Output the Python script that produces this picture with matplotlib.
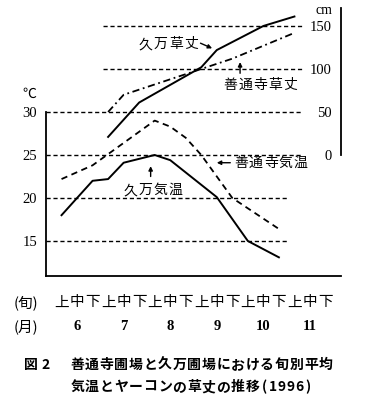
import numpy as np
import matplotlib
matplotlib.use('Agg')
import matplotlib.pyplot as plt
import matplotlib.transforms as mtransforms

plt.rcParams['font.family'] = ['Noto Sans CJK JP', 'DejaVu Sans']

# 旬 (0 = 6月上旬)
decad_labels = ['上', '中', '下'] * 6
months = ['6', '7', '8', '9', '10', '11']
month_pos = [1, 4, 7, 10, 13, 16]

# 気温 (℃)
kuma_temp_x = [0, 2, 3, 4, 6, 7, 10, 12, 14]
kuma_temp = [18.0, 22.0, 22.2, 24.1, 25.0, 24.4, 20.1, 15.0, 13.1]
zentsuji_temp_x = [0, 2, 6, 7, 8, 9, 11, 14]
zentsuji_temp = [22.2, 23.8, 29.0, 28.3, 27.0, 25.0, 20.0, 16.4]

# 草丈 (cm)
kuma_height_x = [3, 5, 9, 10, 13, 15]
kuma_height = [21, 61, 102, 122, 150, 161]
zentsuji_height_x = [3, 4, 11, 15]
zentsuji_height = [50, 70, 112, 142]

temp_ticks = [15, 20, 25, 30]
height_ticks = [0, 50, 100, 150]

W, H = 372, 413
fig = plt.figure(figsize=(W / 100, H / 100), dpi=100)
fig.patch.set_facecolor('white')


# 字間をあけて一文字ずつ置く（全角 adv px, 半角 adv_half px）
def spaced_text(target, x, y, s, transform, adv=14.6, adv_half=8.6, align='left', **kw):
    widths = [adv if ord(c) > 0x2000 else adv_half for c in s]
    total = sum(widths)
    start = 0 if align == 'left' else -total / 2
    pos = start
    for c, w in zip(s, widths):
        tr = mtransforms.offset_copy(transform, fig=fig, x=pos + w / 2, y=0, units='dots')
        target.text(x, y, c, transform=tr, ha='center', va='center', **kw)
        pos += w


ax = fig.add_axes([46 / W, (H - 276) / H, (341 - 46) / W, (276 - 8) / H])
t_lo, t_hi = 10.93, 42.09
ax.set_xlim(-1, 18)
ax.set_ylim(t_lo, t_hi)
ax2 = ax.twinx()
ax2.set_ylim((t_lo - 25) * 10, (t_hi - 25) * 10)  # 25℃ = 0cm, 30℃ = 50cm

# 点線の目盛線
grid_kw = dict(colors='black', linewidth=1.0, linestyles=(0, (3, 2)))
ax.hlines([30, 25], -1, 15.5, **grid_kw)
ax.hlines([20, 15], -1, 14.55, **grid_kw)
ax2.hlines([150, 100], 2.68, 15.5, **grid_kw)

# 気温
ax.plot(kuma_temp_x, kuma_temp, color='black', lw=1.4)
ax.plot(zentsuji_temp_x, zentsuji_temp, color='black', lw=1.3, linestyle=(0, (3.5, 2.5)))
# 草丈
ax2.plot(kuma_height_x, kuma_height, color='black', lw=1.4)
ax2.plot(zentsuji_height_x, zentsuji_height, color='black', lw=1.3, linestyle=(0, (4, 2, 1, 2)))

# 軸
for s in ['top', 'right']:
    ax.spines[s].set_visible(False)
for s in ['top', 'left', 'bottom']:
    ax2.spines[s].set_visible(False)
ax.spines['left'].set_bounds(t_lo, 30)
ax.spines['left'].set_linewidth(1.3)
ax.spines['bottom'].set_linewidth(1.3)
ax2.spines['right'].set_bounds(0, (t_hi - 25) * 10)
ax2.spines['right'].set_linewidth(1.3)

num_font = dict(family='Liberation Serif', size=10.5)
ax.set_yticks(temp_ticks)
ax.set_yticklabels([str(v) for v in temp_ticks], **num_font)
ax.tick_params(axis='y', length=0, pad=6.5)
ax2.set_yticks(height_ticks)
ax2.set_yticklabels([str(v) for v in height_ticks], ha='right', **num_font)
ax2.tick_params(axis='y', length=0, pad=-6.5)

ax.set_xticks(range(len(decad_labels)))
ax.set_xticklabels(decad_labels, fontsize=10.5)
ax.tick_params(axis='x', length=0, pad=14)
for m, p in zip(months, month_pos):
    ax.text(p, -0.19, m, transform=ax.get_xaxis_transform(), ha='center', va='center',
            family='Liberation Serif', size=10.5, fontweight='bold')

fig.text(14 / W, 1 - 303 / H, '(旬)', ha='left', va='center', fontsize=10.5)
fig.text(14 / W, 1 - 327 / H, '(月)', ha='left', va='center', fontsize=10.5)
fig.text(22 / W, 1 - 94 / H, '℃', ha='left', va='center', fontsize=10)
fig.text(332 / W, 1 - 10 / H, 'cm', ha='right', va='center', family='Liberation Serif', fontsize=10)

# 系列の注記
lab = dict(fontsize=10, adv=15.0)
arrow = dict(arrowstyle='-|>', color='black', lw=1.0, mutation_scale=6, shrinkA=0, shrinkB=0)
spaced_text(ax2, 6.87, 129, '久万草丈', ax2.transData, align='center', **lab)
ax2.annotate('', xy=(9.7, 124), xytext=(8.95, 130), arrowprops=arrow)
spaced_text(ax2, 12.8, 81.4, '善通寺草丈', ax2.transData, align='center', **lab)
ax2.annotate('', xy=(11.5, 108), xytext=(11.5, 95), arrowprops=arrow)
spaced_text(ax, 11.06, 24.1, '善通寺気温', ax.transData, align='left', **lab)
ax.annotate('', xy=(10.0, 24.1), xytext=(10.87, 24.1), arrowprops=arrow)
spaced_text(ax, 5.87, 20.93, '久万気温', ax.transData, align='center', **lab)
ax.annotate('', xy=(5.74, 23.7), xytext=(5.74, 22.5), arrowprops=arrow)

# 図題
cap = dict(fontsize=10, fontweight='bold', adv=14.6, adv_half=8.8)
spaced_text(fig, 24 / W, 1 - 365 / H, '図 2', fig.transFigure, adv=13.5, adv_half=5.5,
            fontsize=10, fontweight='bold')
spaced_text(fig, 70 / W, 1 - 365 / H, '善通寺圃場と久万圃場における旬別平均', fig.transFigure, **cap)
spaced_text(fig, 70 / W, 1 - 387 / H, '気温とヤーコンの草丈の推移(1996)', fig.transFigure, **cap)

fig.savefig('out.png', dpi=100, facecolor='white')
